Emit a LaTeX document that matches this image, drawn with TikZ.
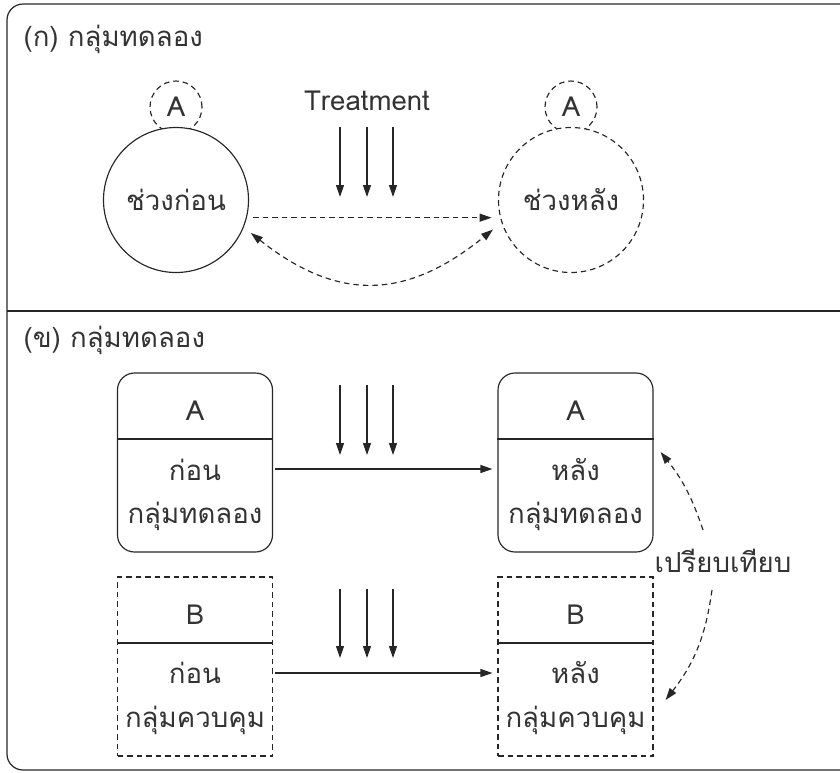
\documentclass[tikz,border=0pt]{standalone}
\usepackage{fontspec}
\setmainfont[Script=Thai]{Loma}
\usetikzlibrary{arrows.meta}
\definecolor{ink}{HTML}{262626}
\definecolor{txt}{HTML}{333333}
\begin{document}
\begin{tikzpicture}[x=1pt,y=-1pt,line width=1.15pt,draw=ink,
  lbl/.style={font=\fontsize{27.6}{30}\selectfont,text=txt,inner sep=0pt},
  dsh/.style={dash pattern=on 5.5pt off 4pt},
  tip/.style={-{Triangle[length=12pt,width=8pt]}},
  tips/.style={{Triangle[length=12pt,width=8pt]}-{Triangle[length=12pt,width=8pt]}},
  smallc/.style={circle,draw=ink,dsh,minimum size=52pt,inner sep=0pt,lbl},
  bigc/.style={circle,draw=ink,fill=white,minimum size=145pt,inner sep=0pt,lbl},
  boxr/.style={draw=ink,rounded corners=17pt,minimum width=155pt,minimum height=179pt,inner sep=0pt},
  boxd/.style={draw=ink,dsh,minimum width=155pt,minimum height=179pt,inner sep=0pt}]
\useasboundingbox (0,0) rectangle (840,772);
\clip (0,0) rectangle (840,772);
% frame
\draw[ink,line width=1.2pt,rounded corners=16pt] (7,4) rectangle (856,770);
\draw[ink,line width=1.2pt] (7,311) -- (840,311);
% titles
\node[lbl,anchor=base west] (t1) at (23,46) {(ก) กลุ่มทดลอง};
\node[lbl,anchor=base west] (t2) at (23,347) {(ข) กลุ่มทดลอง};
% part (a)
\node[smallc] (a1) at (176,107) {A};
\node[smallc] (a2) at (571,107) {A};
\node[bigc] (c1) at (176,200) {ช่วงก่อน};
\node[bigc,dsh] (c2) at (571,200) {ช่วงหลัง};
\node[lbl,anchor=base] (tr) at (367,110) {Treatment};
\foreach \x [count=\i] in {340,367,393} {
  \coordinate (u\i) at (\x,127); \coordinate (v\i) at (\x,197);
  \draw[tip] (u\i) -- (v\i);
}
\draw[dsh,tip,shorten <=6.5pt,shorten >=8.5pt] (c1.-14) -- (c2.194);
\draw[dsh,tips,shorten <=9pt,shorten >=11pt] (c1.-22) .. controls (337,301) and (405,301) .. (c2.198);
% part (b)
\node[boxr] (la) at (195,462.5) {};
\node[boxr] (ra) at (575.5,462.5) {};
\node[boxd] (lb) at (195,666.5) {};
\node[boxd] (rb) at (575.5,666.5) {};
\draw (la.west |- 0,439) -- (la.east |- 0,439);
\draw (ra.west |- 0,439) -- (ra.east |- 0,439);
\draw (lb.west |- 0,643) -- (lb.east |- 0,643);
\draw (rb.west |- 0,643) -- (rb.east |- 0,643);
\node[lbl,anchor=base] (la1) at (195,420) {A};
\node[lbl,anchor=base] (la2) at (195,480) {ก่อน};
\node[lbl,anchor=base] (la3) at (195,523) {กลุ่มทดลอง};
\node[lbl,anchor=base] (ra1) at (575.5,420) {A};
\node[lbl,anchor=base] (ra2) at (575.5,480) {หลัง};
\node[lbl,anchor=base] (ra3) at (575.5,523) {กลุ่มทดลอง};
\node[lbl,anchor=base] (lb1) at (195,624) {B};
\node[lbl,anchor=base] (lb2) at (195,683) {ก่อน};
\node[lbl,anchor=base] (lb3) at (195,727) {กลุ่มควบคุม};
\node[lbl,anchor=base] (rb1) at (575.5,624) {B};
\node[lbl,anchor=base] (rb2) at (575.5,683) {หลัง};
\node[lbl,anchor=base] (rb3) at (575.5,727) {กลุ่มควบคุม};
\foreach \x [count=\i] in {340,367,393} {
  \coordinate (p\i) at (\x,385); \coordinate (q\i) at (\x,455);
  \draw[tip] (p\i) -- (q\i);
  \coordinate (r\i) at (\x,589); \coordinate (s\i) at (\x,658);
  \draw[tip] (r\i) -- (s\i);
}
\draw[tip,shorten <=2pt,shorten >=5pt] ([yshift=-6.5pt]la.east) -- ([yshift=-6.5pt]ra.west);
\draw[tip,shorten <=2pt,shorten >=5pt] ([yshift=-6.5pt]lb.east) -- ([yshift=-6.5pt]rb.west);
\node[lbl,anchor=base] (cmp) at (723,572) {เปรียบเทียบ};
\draw[dsh,tip] ([xshift=-20pt,yshift=42pt]cmp.base) to[bend right=10] ([xshift=7pt,yshift=10.5pt]ra.east);
\draw[dsh,tip] ([xshift=-11pt,yshift=-18pt]cmp.base) to[bend left=15] ([xshift=12pt,yshift=-33.5pt]rb.east);
\end{tikzpicture}
\end{document}
